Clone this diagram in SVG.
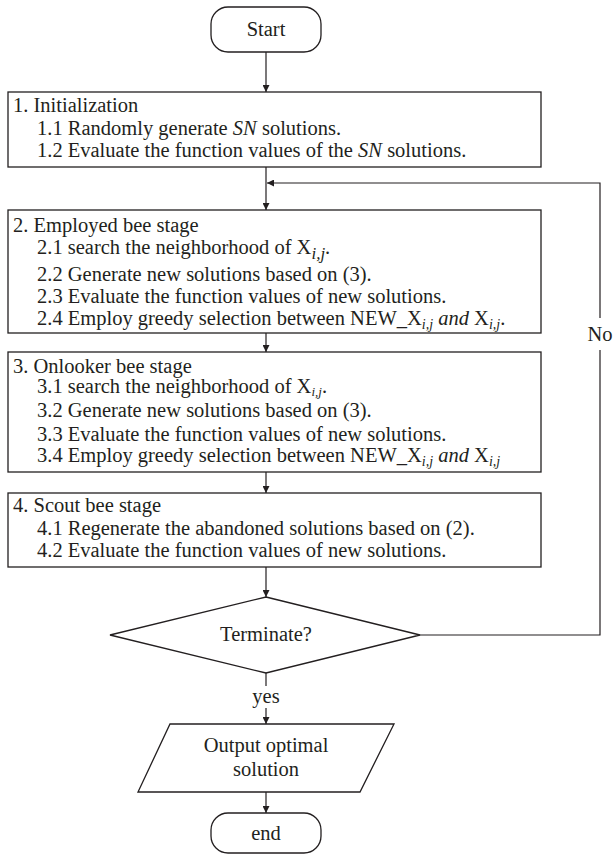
<svg xmlns="http://www.w3.org/2000/svg" width="613" height="856" viewBox="0 0 613 856">
<style>
text{font-family:"Liberation Serif","Times New Roman",serif;font-size:20.5px;fill:#231f20}
.c{text-anchor:middle}
.i{font-style:italic}
.s{font-style:italic;font-size:14px}
.b{fill:#fff;stroke:#231f20;stroke-width:1.3}
.l{fill:none;stroke:#231f20;stroke-width:1.2}
</style>
<defs>
<marker id="a" viewBox="0 0 10 10" refX="10" refY="5" markerWidth="7" markerHeight="7" markerUnits="userSpaceOnUse" orient="auto">
<path d="M0,0 L10,5 L0,10 z" fill="#231f20"/>
</marker>
</defs>
<rect width="613" height="856" fill="#fff"/>
<g id="connectors">
<line class="l" x1="266" y1="52" x2="266" y2="92" marker-end="url(#a)"/>
<line class="l" x1="266" y1="167" x2="266" y2="210" marker-end="url(#a)"/>
<line class="l" x1="266" y1="333" x2="266" y2="352" marker-end="url(#a)"/>
<line class="l" x1="266" y1="472" x2="266" y2="493" marker-end="url(#a)"/>
<line class="l" x1="266" y1="567" x2="266" y2="597" marker-end="url(#a)"/>
<polyline class="l" points="420,635 600,635 600,350"/>
<polyline class="l" points="600,318 600,183 267,183" marker-end="url(#a)"/>
<text x="600" y="341" class="c">No</text>
<line class="l" x1="266" y1="673" x2="266" y2="686"/>
<text x="266" y="703" class="c">yes</text>
<line class="l" x1="266" y1="708" x2="266" y2="724" marker-end="url(#a)"/>
<line class="l" x1="266" y1="792" x2="266" y2="813" marker-end="url(#a)"/>
</g>
<g id="start">
<rect class="b" x="211" y="7" width="110" height="45" rx="17"/>
<text x="266" y="36" class="c">Start</text>
</g>
<g id="init">
<rect class="b" x="8" y="92" width="533" height="75"/>
<text x="13" y="112">1. Initialization</text>
<text x="37" y="135">1.1 Randomly generate <tspan class="i">SN</tspan> solutions.</text>
<text x="37" y="157">1.2 Evaluate the function values of the <tspan class="i">SN</tspan> solutions.</text>
</g>
<g id="employed">
<rect class="b" x="8" y="210" width="533" height="123"/>
<text x="13" y="232">2. Employed bee stage</text>
<text x="37" y="254">2.1 search the neighborhood of X<tspan class="s" style="font-size:17px" dy="5">i,j</tspan><tspan dy="-5">.</tspan></text>
<text x="37" y="281">2.2 Generate new solutions based on (3).</text>
<text x="37" y="303">2.3 Evaluate the function values of new solutions.</text>
<text x="37" y="325">2.4 Employ greedy selection between NEW_X<tspan class="s" dy="4">i,j</tspan><tspan class="i" dy="-4"> and </tspan>X<tspan class="s" dy="4">i,j</tspan><tspan dy="-4">.</tspan></text>
</g>
<g id="onlooker">
<rect class="b" x="8" y="352" width="533" height="120"/>
<text x="13" y="373">3. Onlooker bee stage</text>
<text x="37" y="393">3.1 search the neighborhood of X<tspan class="s" style="font-size:13px" dy="3">i,j</tspan><tspan dy="-3">.</tspan></text>
<text x="37" y="417">3.2 Generate new solutions based on (3).</text>
<text x="37" y="441">3.3 Evaluate the function values of new solutions.</text>
<text x="37" y="462">3.4 Employ greedy selection between NEW_X<tspan class="s" dy="4">i,j</tspan><tspan class="i" dy="-4"> and </tspan>X<tspan class="s" dy="4">i,j</tspan></text>
</g>
<g id="scout">
<rect class="b" x="8" y="493" width="533" height="74"/>
<text x="13" y="512">4. Scout bee stage</text>
<text x="37" y="535">4.1 Regenerate the abandoned solutions based on (2).</text>
<text x="37" y="557">4.2 Evaluate the function values of new solutions.</text>
</g>
<g id="terminate">
<polygon class="b" points="266,597 420,635 266,673 110,635"/>
<text x="266" y="641" class="c">Terminate?</text>
</g>
<g id="output">
<polygon class="b" points="170,724 394,724 360,792 138,792"/>
<text x="266" y="752" class="c">Output optimal</text>
<text x="266" y="776" class="c">solution</text>
</g>
<g id="end">
<rect class="b" x="211" y="813" width="110" height="40" rx="17"/>
<text x="266" y="840" class="c">end</text>
</g>
</svg>
